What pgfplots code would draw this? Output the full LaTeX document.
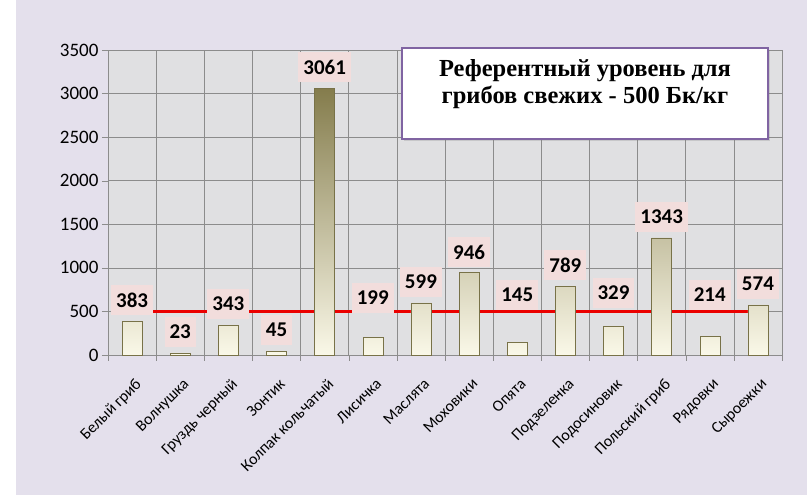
\documentclass[border=0pt]{standalone}
\usepackage{fontspec}
\setmainfont{Carlito}
\newfontfamily\titlefont{Liberation Serif}
\usepackage{pgfplots}
\pgfplotsset{compat=1.18}
\usetikzlibrary{shadows}
\definecolor{bg}{RGB}{228,224,236}
\definecolor{plotbg}{RGB}{224,224,226}
\definecolor{gridc}{RGB}{140,140,140}
\definecolor{bartop}{RGB}{132,124,76}
\definecolor{barbot}{RGB}{250,248,232}
\definecolor{bardraw}{RGB}{120,114,72}
\definecolor{lblbg}{RGB}{242,221,220}
\definecolor{boxborder}{RGB}{128,100,162}
\definecolor{refred}{RGB}{235,0,0}
\begin{document}
\begin{tikzpicture}[x=1pt,y=1pt]
\useasboundingbox (0,0) rectangle (807,495);
\fill[white] (0,0) rectangle (807,495);
\fill[bg] (16,0) rectangle (807,495);
\begin{axis}[
  at={(108pt,140pt)}, anchor=south west,
  scale only axis, width=674pt, height=305pt,
  xmin=-0.5, xmax=13.5, ymin=0, ymax=3500,
  axis background/.style={fill=plotbg},
  axis line style={draw=gridc},
  tick align=outside,
  xtick={0,...,13},
  xticklabels={Белый гриб, Волнушка, Груздь черный, Зонтик, Колпак кольчатый, Лисичка, Маслята, Моховики, Опята, Подзеленка, Подосиновик, Польский гриб, Рядовки, Сыроежки},
  major x tick style={draw=none},
  minor xtick={-0.5,0.5,...,13.5},
  minor x tick style={draw=gridc},
  minor tick length=6pt,
  xminorgrids=true,
  ytick={0,500,...,3500},
  ymajorgrids=true,
  major y tick style={draw=gridc},
  major tick length=6pt,
  grid style={draw=gridc, line width=0.6pt},
  minor grid style={draw=gridc, line width=0.6pt},
  xtick pos=left, ytick pos=left,
  /pgf/number format/assume math mode=true,
  /pgf/number format/1000 sep={},
  yticklabel style={font=\fontsize{19}{19}\selectfont},
  xticklabel style={rotate=45, anchor=north east, font=\fontsize{16}{16}\selectfont, inner sep=0pt, xshift=-10pt, yshift=-13pt},
  clip=false,
]
\addplot[draw=none, mark=none, point meta=explicit symbolic, nodes near coords, forget plot,
  nodes near coords style={anchor=center, fill=lblbg, font=\bfseries\fontsize{21}{21}\selectfont, inner xsep=5pt, inner ysep=8pt}]
  coordinates {(0,631)[383] (1,264)[23] (2,585)[343] (3,287)[45] (4,3305)[3061] (5,654)[199] (6,838)[599] (7,1182)[946] (8,688)[145] (9,1033)[789] (10,711)[329] (11,1584)[1343] (12,688)[214] (13,815)[574]};
\addplot[color=refred, line width=2.5pt, mark=none, forget plot] coordinates {(-0.15,500) (13.1,500)};
\addplot[ybar, bar width=20pt, draw=bardraw, top color=bartop, bottom color=barbot, forget plot]
  coordinates {(0,383) (1,23) (2,343) (3,45) (4,3061) (5,199) (6,599) (7,946) (8,145) (9,789) (10,329) (11,1343) (12,214) (13,574)};
\end{axis}
\node[draw=boxborder, line width=1.5pt, fill=white, minimum width=366pt, minimum height=91pt, drop shadow={opacity=0.25, shadow xshift=2pt, shadow yshift=-2pt}] at (585,401.5) {};
\node[align=center, font=\titlefont\bfseries\fontsize{24.5}{27}\selectfont] at (585,411) {Референтный уровень для\\грибов свежих - 500 Бк/кг};
\end{tikzpicture}
\end{document}
